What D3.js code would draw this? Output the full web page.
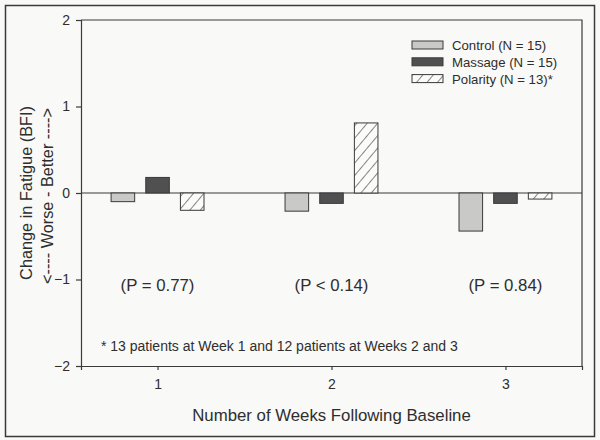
<!DOCTYPE html>
<html lang="en">
<head>
  <meta charset="UTF-8">
  <title>Change in Fatigue</title>
  <style>
    body { margin: 0; background: #f9f9f7; }
    text { font-family: "Liberation Sans", Arial, sans-serif; fill: #2e2e2e; }
  </style>
</head>
<body>
  <svg width="600" height="440"></svg>
  <script src="https://cdn.jsdelivr.net/npm/d3@7/dist/d3.min.js"></script>
  <script>
    var weeks = [1, 2, 3]
    var groups = ['Control (N = 15)', 'Massage (N = 15)', 'Polarity (N = 13)*']
    var control = [-0.10, -0.21, -0.44]
    var massage = [0.18, -0.12, -0.12]
    var polarity = [-0.20, 0.81, -0.07]
    var pValues = ['(P = 0.77)', '(P < 0.14)', '(P = 0.84)']
    var yTicks = [-2, -1, 0, 1, 2]
    var footnote = '* 13 patients at Week 1 and 12 patients at Weeks 2 and 3'

    var series = [control, massage, polarity]

    var svg = d3.select('svg')
    var mLeft = 81, mRight = 582, mTop = 20, mBottom = 366
    var ink = '#3a3a3a'

    // outer frame
    svg.append('rect')
      .attr('x', 5.5).attr('y', 5.5).attr('width', 589).attr('height', 431)
      .attr('fill', 'none').attr('stroke', ink).attr('stroke-width', 1.5)

    var defs = svg.append('defs')
    var pat = defs.append('pattern')
      .attr('id', 'hatch')
      .attr('patternUnits', 'userSpaceOnUse')
      .attr('width', 8).attr('height', 8)
      .attr('patternTransform', 'rotate(40)')
    pat.append('rect').attr('width', 8).attr('height', 8).attr('fill', '#fbfbf9')
    pat.append('line')
      .attr('x1', 0).attr('y1', 0).attr('x2', 0).attr('y2', 8)
      .attr('stroke', '#444').attr('stroke-width', 1.3)

    var fills = ['#c9c9c7', '#505050', 'url(#hatch)']

    var x = d3.scaleLinear().domain([0.56, 3.44]).range([mLeft, mRight])
    var y = d3.scaleLinear().domain([-2, 2]).range([mBottom, mTop])
    var inner = d3.scaleBand().domain(d3.range(groups.length))
      .range([-52, 52]).paddingInner(0.32).paddingOuter(0.16)

    // plot frame (top and right lines)
    svg.append('path')
      .attr('d', 'M' + mLeft + ',' + mTop + 'H' + mRight + 'V' + mBottom)
      .attr('fill', 'none').attr('stroke', ink).attr('stroke-width', 1.2)

    // zero line
    svg.append('line')
      .attr('x1', mLeft).attr('x2', mRight)
      .attr('y1', y(0)).attr('y2', y(0))
      .attr('stroke', ink).attr('stroke-width', 1.2)

    // bars
    series.forEach(function(vals, si) {
      svg.append('g').selectAll('rect')
        .data(vals)
        .enter()
        .append('rect')
        .attr('x', function(d, i) { return x(weeks[i]) + inner(si) })
        .attr('width', inner.bandwidth())
        .attr('y', function(d) { return y(Math.max(0, d)) })
        .attr('height', function(d) { return Math.abs(y(d) - y(0)) })
        .attr('fill', fills[si])
        .attr('stroke', ink)
        .attr('stroke-width', 1)
    })

    // axes
    var yAxis = svg.append('g')
      .attr('transform', 'translate(' + mLeft + ',0)')
      .call(d3.axisLeft(y).tickValues(yTicks).tickSize(5).tickPadding(6)
        .tickFormat(function(d) { return d < 0 ? '\u2212' + Math.abs(d) : d }))
    var xAxis = svg.append('g')
      .attr('transform', 'translate(0,' + mBottom + ')')
      .call(d3.axisBottom(x).tickValues(weeks).tickSize(4).tickPadding(9)
        .tickFormat(d3.format('d')))
    ;[yAxis, xAxis].forEach(function(a) {
      a.select('.domain').attr('stroke', ink).attr('stroke-width', 1.2)
      a.selectAll('.tick line').attr('stroke', ink).attr('stroke-width', 1.2)
      a.selectAll('.tick text').attr('font-size', 14).style('font-family', '"Liberation Sans", Arial, sans-serif').attr('fill', '#2e2e2e')
    })

    // axis titles
    svg.append('text')
      .attr('transform', 'translate(32,193) rotate(-90)')
      .attr('text-anchor', 'middle').attr('font-size', 16.3)
      .text('Change in Fatigue (BFI)')
    svg.append('text')
      .attr('transform', 'translate(53,196) rotate(-90)')
      .attr('text-anchor', 'middle').attr('font-size', 16.3)
      .text('<---- Worse - Better ---->')
    svg.append('text')
      .attr('x', x(2)).attr('y', 421)
      .attr('text-anchor', 'middle').attr('font-size', 16.8)
      .text('Number of Weeks Following Baseline')

    // p-values
    svg.append('g').selectAll('text')
      .data(pValues)
      .enter()
      .append('text')
      .attr('x', function(d, i) { return x(weeks[i]) })
      .attr('y', 291)
      .attr('text-anchor', 'middle').attr('font-size', 16.8)
      .text(function(d) { return d })

    svg.append('text')
      .attr('x', 101).attr('y', 351)
      .attr('font-size', 14)
      .text(footnote)

    // legend
    var legend = svg.append('g')
      .selectAll('g')
      .data(groups)
      .enter()
      .append('g')
      .attr('transform', function(d, i) { return 'translate(412,' + (41 + i * 16.8) + ')' })
    legend.append('rect')
      .attr('width', 31).attr('height', 8)
      .attr('fill', function(d, i) { return fills[i] })
      .attr('stroke', ink).attr('stroke-width', 1)
    legend.append('text')
      .attr('x', 40).attr('y', 9)
      .attr('font-size', 13.2)
      .text(function(d) { return d })
  </script>
</body>
</html>
